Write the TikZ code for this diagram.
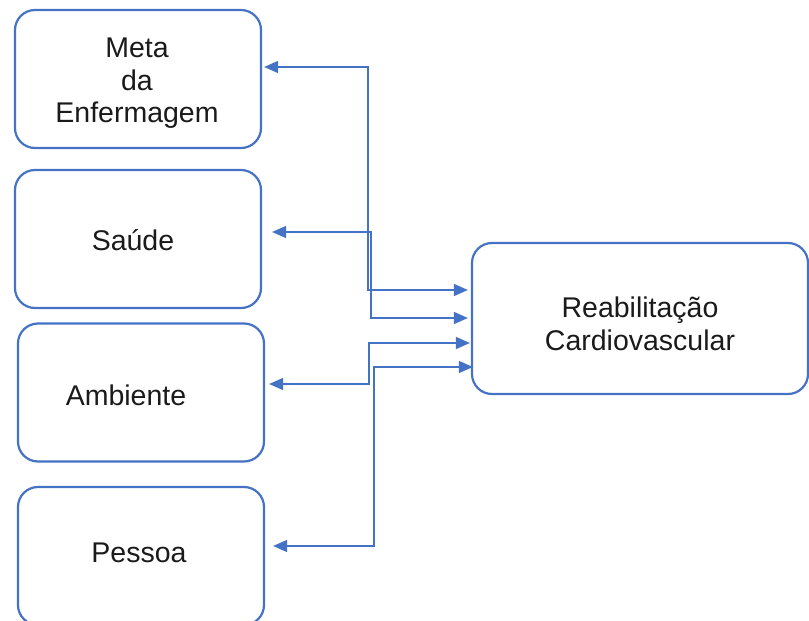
\documentclass[tikz,border=0pt]{standalone}
\usepackage{fontspec}
\setmainfont{Liberation Sans}
\usetikzlibrary{arrows.meta,calc}
\definecolor{boxblue}{HTML}{4472C4}
\definecolor{ink}{HTML}{1A1A1A}
\begin{document}
\begin{tikzpicture}[x=1pt,y=-1pt,
  box/.style={draw=boxblue, line width=2.2pt, rounded corners=20pt,
    minimum width=246pt, minimum height=138pt, inner sep=0pt},
  bigbox/.style={box, minimum width=336pt, minimum height=151pt},
  txtbase/.style={text=ink, font=\fontsize{28.5}{32.7}\selectfont, align=center,
    inner sep=0pt},
  txt/.style={txtbase, text height=20.5pt, text depth=0pt},
  tip/.tip={Triangle[length=14pt,width=12pt]},
  conn/.style={draw=boxblue, line width=1.4pt, tip-tip}]
\useasboundingbox (0,0) rectangle (809,621);
\clip (0,0) rectangle (809,621);

% concept boxes on the left
\node[box] (meta)  at (138,79)    {};
\node[box] (saude) at (138,239)   {};
\node[box] (amb)   at (141,392.5) {};
\node[box] (pes)   at (141,556)   {};
% target box on the right
\node[bigbox] (reab) at (640,318.5) {};

% box captions
\node[txtbase, anchor=north] (metat) at (137,37.5) {Meta\\da\\Enfermagem};
\node[txt] (saudet) at (133,240) {Saúde};
\node[txt] (ambt)   at (126,395) {Ambiente};
\node[txt] (pest)   at (139,552) {Pessoa};
\node[txtbase, anchor=north] (reabt) at (640,297) {Reabilitação\\Cardiovascular};

% two-way connectors between each concept and the target
\draw[conn] ($(meta.east)+(2,-12)$)  -- ++(104,0) |- ($(reab.west)+(-3,-28.5)$);
\draw[conn] ($(saude.east)+(10,-7)$) -- ++(99,0)  |- ($(reab.west)+(-3,-0.5)$);
\draw[conn] ($(amb.east)+(4,-8.5)$)  -- ++(100,0) |- ($(reab.west)+(-1,24.5)$);
\draw[conn] ($(pes.east)+(8,-10)$)   -- ++(101,0) |- ($(reab.west)+(2,48.5)$);
\end{tikzpicture}
\end{document}
